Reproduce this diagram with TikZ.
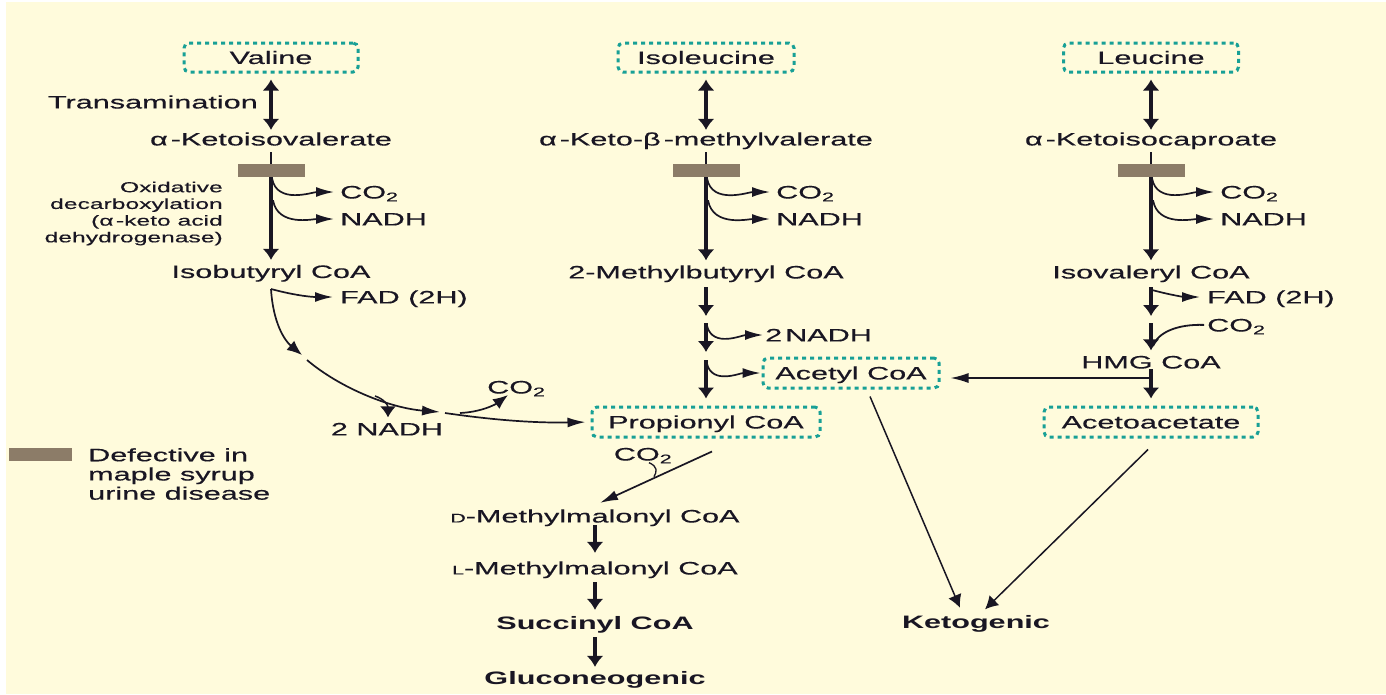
\documentclass[tikz,border=0pt]{standalone}
\usepackage{fontspec}
\setmainfont{Liberation Sans}[FakeStretch=1.7,UprightFeatures={FakeBold=0.4}]
\usetikzlibrary{arrows.meta,calc}
\definecolor{bg}{RGB}{255,251,220}
\definecolor{teal2}{RGB}{24,160,150}
\definecolor{barc}{RGB}{140,124,104}
\definecolor{ink}{RGB}{25,22,35}
\begin{document}
\begin{tikzpicture}[x=1pt,y=-1pt,
 lab/.style={inner sep=0pt,text height=12.9pt,text depth=0pt,font=\fontsize{18}{21}\selectfont,text=ink},
 boldlab/.style={lab,font=\fontsize{18}{21}\selectfont\bfseries},
 box/.style={lab,draw=teal2,line width=3pt,dash pattern=on 4pt off 4pt,rounded corners=5pt,minimum height=29pt},
 blockbar/.style={fill=barc,inner sep=0pt,minimum width=67pt,minimum height=13pt},
 main/.style={draw=ink,line width=3.2pt,-{Latex[length=11pt,width=17pt]}},
 dbl/.style={draw=ink,line width=3.2pt,{Latex[length=11pt,width=17pt]}-{Latex[length=11pt,width=17pt]}},
 side/.style={draw=ink,line width=1.7pt,-{Latex[length=18pt,width=10pt]}},
 diag/.style={draw=ink,line width=1.7pt,-{Latex[length=15pt,width=12pt]}},
 vdown/.style={draw=ink,line width=1.7pt,-{Latex[length=10pt,width=15pt]}},
 steep/.style={draw=ink,line width=1.5pt,-{Latex[length=13pt,width=14pt]}},
 stemline/.style={draw=ink,line width=1.8pt},
]
\fill[white] (0,0) rectangle (1386,694);
\fill[bg] (6,2) rectangle (1386,694);
\useasboundingbox (0,0) rectangle (1386,694);

% top amino acids
\node[box,minimum width=174pt] (val) at (271,57.5) {Valine};
\node[box,minimum width=176pt] (ile) at (706,57.5) {Isoleucine};
\node[box,minimum width=175pt] (leu) at (1151,57.5) {Leucine};
\node[lab,anchor=east] (trans) at (258,102) {Transamination};

\node[lab] (ak1) at (271,139) {α\,-Ketoisovalerate};
\node[lab] (ak2) at (706,139) {α\,-Keto-β\,-methylvalerate};
\node[lab] (ak3) at (1151,139) {α\,-Ketoisocaproate};

\draw[dbl,shorten <=6pt,shorten >=2.5pt] (val) -- (ak1);
\draw[dbl,shorten <=6pt,shorten >=2.5pt] (ile) -- (ak2);
\draw[dbl,shorten <=6pt,shorten >=2.5pt] (leu) -- (ak3);

\node[blockbar] (bar1) at (271,170.5) {};
\node[blockbar] (bar2) at (706,170.5) {};
\node[blockbar] (bar3) at (1151,170.5) {};

\node[anchor=north east,align=right,inner sep=0pt,font=\fontsize{14.5}{16.7}\selectfont,text=ink] (oxid) at (223,181.5) {Oxidative\\decarboxylation\\(α\,-keto acid\\dehydrogenase)};

\node[lab] (isob) at (271,271.5) {Isobutyryl CoA};
\node[lab] (mbut) at (706,272) {2-Methylbutyryl CoA};
\node[lab] (isov) at (1151,272) {Isovaleryl CoA};

\foreach \i/\x/\a/\b in {1/340/ak1/isob,2/776/ak2/mbut,3/1220/ak3/isov}{
  \node[lab,anchor=west] (co\i) at (\x,192) {CO\textsubscript{2}};
  \node[lab,anchor=west] (nadh\i) at (\x,219) {NADH};
  \draw[stemline,shorten <=6.5pt] (\a) -- (bar\i);
  \draw[main,shorten >=5pt] (bar\i) -- (\b);
  \coordinate (ba\i) at ($(bar\i.south)+(1,1)$);
  \coordinate (bb\i) at ($(bar\i.south)+(2,23)$);
  \draw[side,shorten >=6pt] (ba\i) to[out=-80,in=180] (co\i.west);
  \draw[side,shorten >=6pt] (bb\i) to[out=-80,in=180] (nadh\i.west);
}

% left lower pathway
\node[lab,anchor=west] (fad1) at (340,297) {FAD (2H)};
\coordinate (c0) at (271,289);
\draw[side,shorten >=7pt] (c0) to[out=-15,in=180] (fad1.west);
\coordinate (c1) at (302,355);
\draw[diag] (c0) .. controls (273,322) and (284,340) .. (c1);
\coordinate (c2) at (307,360);
\coordinate (c3) at (440,412);
\draw[side] (c2) .. controls (340,388) and (390,408) .. (c3);
\node[lab] (nadhl) at (387,429) {2 NADH};
\coordinate (cn) at (375,396);
\draw[vdown,line width=1.5pt,-{Latex[length=11pt,width=16pt]},shorten >=5pt] (cn) .. controls (384,399) and (388,405) .. (nadhl.north -| 388,0);
\node[box,minimum width=228pt,minimum height=30pt] (prop) at (706,422) {Propionyl CoA};
\coordinate (c4) at (445,413);
\draw[side,shorten >=5pt] (c4) .. controls (500,421) and (540,423) .. (prop.west);
\node[lab,anchor=west] (cob) at (487,387) {CO\textsubscript{2}};
\coordinate (c5) at (460,413);
\draw[diag] (c5) .. controls (482,412) and (496,404) .. (508,395);

% middle lower pathway
\coordinate (m1) at (706,316);
\draw[main,shorten <=8.5pt] (mbut) -- (m1);
\coordinate (m2s) at (706,323);
\coordinate (m2e) at (706,352);
\draw[main] (m2s) -- (m2e);
\coordinate (m3s) at (706,360);
\draw[main,shorten >=7pt] (m3s) -- (prop);
\node[lab,anchor=west] (nadhm) at (765,335) {2\,NADH};
\node[box,minimum width=176pt,minimum height=30pt] (acetyl) at (851,373) {Acetyl CoA};
\coordinate (mb1) at (707,326);
\coordinate (mb2) at (707,364);
\draw[side,shorten >=2pt] (mb1) to[out=-75,in=180] (nadhm.west);
\draw[side,shorten >=1pt] (mb2) to[out=-75,in=180] (acetyl.west);

% right lower pathway
\node[lab,anchor=west] (fad3) at (1207,297) {FAD (2H)};
\coordinate (r0) at (1152,290);
\draw[side,shorten >=7pt] (r0) to[out=-15,in=180] (fad3.west);
\coordinate (r1) at (1151,316);
\draw[main,shorten <=8.5pt] (isov) -- (r1);
\node[lab] (hmg) at (1151,362) {HMG CoA};
\coordinate (r2s) at (1151,323);
\draw[main,shorten >=5pt] (r2s) -- (hmg);
\node[lab,anchor=west] (cor) at (1207,325) {CO\textsubscript{2}};
\draw[stemline,shorten <=3pt] (cor.west) .. controls (1178,324) and (1158,332) .. (1153,346);
\node[box,minimum width=214pt,minimum height=30pt] (acac) at (1151,422) {Acetoacetate};
\draw[main,shorten <=0.5pt,shorten >=7pt] (hmg) -- (acac);
\coordinate (hj) at (1151,378);
\draw[side,line width=1.5pt,shorten >=10pt] (hj) -- (hj -| acetyl.east);

% legend
\node[blockbar,minimum width=63pt,anchor=north west] (legbar) at (9,448) {};
\node[anchor=north west,align=left,inner sep=0pt,font=\fontsize{18}{19.2}\selectfont,text=ink] (leg) at (88,448) {Defective in\\maple syrup\\urine disease};

% bottom gluconeogenic branch
\node[lab] (co2d) at (643,454) {CO\textsubscript{2}};
\node[lab] (dm) at (595,516) {{\fontsize{12.5}{14}\selectfont D}-Methylmalonyl CoA};
\node[lab] (lm) at (595,568) {{\fontsize{12.5}{14}\selectfont L}-Methylmalonyl CoA};
\node[boldlab] (succ) at (595,623) {Succinyl CoA};
\node[boldlab] (gluc) at (595,678) {Gluconeogenic};
\draw[side] ($(prop.south)+(6,13)$) -- ($(dm.north)+(5,-6.5)$);
\draw[stemline,line width=1.3pt] ($(co2d.south)+(6,2)$) .. controls +(9,4) and +(3,-5) .. ($(co2d.south)+(11,16)$);
\draw[main,shorten <=2.5pt,shorten >=8.5pt] (dm) -- (lm);
\draw[main,shorten <=7.5pt,shorten >=6.5pt] (lm) -- (succ);
\draw[main,shorten <=7.5pt,shorten >=4.5pt] (succ) -- (gluc);

% ketogenic
\node[boldlab] (keto) at (976,622) {Ketogenic};
\draw[steep] ($(acetyl.south)+(19,7)$) -- ($(keto.north)+(-16,-7.5)$);
\draw[steep] ($(acac.south)+(-3,11)$) -- ($(keto.north)+(9,-6)$);
\end{tikzpicture}
\end{document}
